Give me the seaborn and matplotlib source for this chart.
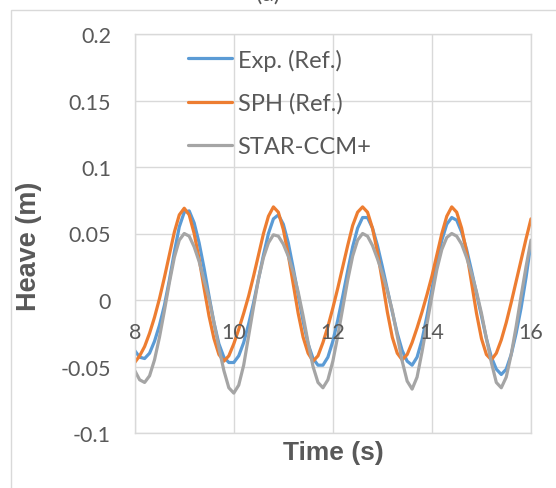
import numpy as np
import pandas as pd
import matplotlib
matplotlib.use("Agg")
import matplotlib.pyplot as plt
from matplotlib.patches import Rectangle
from matplotlib.transforms import offset_copy
import seaborn as sns

# Time axis (s), sampled every 0.1 s
time_s = [round(8.0 + 0.1 * i, 1) for i in range(81)]

# Heave (m) - experimental reference
heave_exp = [
    -0.038, -0.043, -0.044, -0.040, -0.031, -0.019, -0.004, 0.015, 0.036, 0.055,
    0.066, 0.067, 0.058, 0.043, 0.024, 0.003, -0.017, -0.033, -0.043, -0.047,
    -0.047, -0.042, -0.032, -0.018, -0.002, 0.016, 0.034, 0.050, 0.061, 0.064,
    0.057, 0.043, 0.024, 0.004, -0.016, -0.033, -0.044, -0.049, -0.049, -0.043,
    -0.031, -0.015, 0.003, 0.022, 0.040, 0.054, 0.062, 0.062, 0.054, 0.041,
    0.025, 0.008, -0.009, -0.025, -0.038, -0.046, -0.049, -0.043, -0.030, -0.012,
    0.008, 0.028, 0.045, 0.057, 0.062, 0.060, 0.051, 0.038, 0.022, 0.005,
    -0.012, -0.029, -0.043, -0.052, -0.056, -0.052, -0.041, -0.025, -0.006, 0.017,
    0.043,
]

# Heave (m) - SPH reference
heave_sph = [
    -0.047, -0.042, -0.035, -0.025, -0.013, 0.001, 0.017, 0.034, 0.051, 0.064,
    0.069, 0.064, 0.050, 0.031, 0.009, -0.012, -0.029, -0.041, -0.046, -0.042,
    -0.033, -0.022, -0.010, 0.003, 0.018, 0.034, 0.050, 0.063, 0.070, 0.066,
    0.053, 0.034, 0.012, -0.010, -0.028, -0.040, -0.046, -0.042, -0.032, -0.020,
    -0.006, 0.009, 0.025, 0.041, 0.056, 0.066, 0.070, 0.066, 0.054, 0.036,
    0.014, -0.009, -0.028, -0.040, -0.045, -0.041, -0.032, -0.021, -0.009, 0.004,
    0.018, 0.034, 0.050, 0.063, 0.070, 0.066, 0.054, 0.036, 0.013, -0.010,
    -0.029, -0.041, -0.045, -0.040, -0.030, -0.017, -0.002, 0.014, 0.030, 0.046,
    0.061,
]

# Heave (m) - STAR-CCM+ simulation
heave_star = [
    -0.053, -0.060, -0.062, -0.057, -0.045, -0.028, -0.008, 0.013, 0.032, 0.045,
    0.050, 0.048, 0.040, 0.029, 0.015, 0.001, -0.017, -0.036, -0.053, -0.066,
    -0.070, -0.064, -0.049, -0.027, -0.005, 0.016, 0.032, 0.043, 0.049, 0.048,
    0.042, 0.033, 0.021, 0.006, -0.012, -0.032, -0.050, -0.062, -0.066, -0.060,
    -0.046, -0.027, -0.006, 0.015, 0.033, 0.045, 0.050, 0.048, 0.041, 0.031,
    0.020, 0.007, -0.008, -0.027, -0.046, -0.061, -0.067, -0.058, -0.039, -0.018,
    0.003, 0.023, 0.038, 0.047, 0.050, 0.048, 0.042, 0.032, 0.020, 0.006,
    -0.010, -0.029, -0.047, -0.062, -0.066, -0.058, -0.041, -0.020, 0.003, 0.025,
    0.045,
]

series_names = ["Exp. (Ref.)", "SPH (Ref.)", "STAR-CCM+"]
series_colors = ["#5B9BD5", "#ED7D31", "#A5A5A5"]

x_ticks = [8, 10, 12, 14, 16]
y_ticks = [-0.1, -0.05, 0, 0.05, 0.1, 0.15, 0.2]
y_tick_labels = ["-0.1", "-0.05", "0", "0.05", "0.1", "0.15", "0.2"]

sns.set_style("white")
plt.rcParams["font.family"] = ["Lato", "DejaVu Sans"]

text_grey = "#595959"
grid_grey = "#D9D9D9"

W, H = 556, 489
fig = plt.figure(figsize=(W / 100, H / 100), dpi=100)
ax = fig.add_axes([134.7 / W, 1 - 434 / H, (531 - 134.7) / W, (434 - 35) / H])

df = pd.DataFrame({
    "Time": time_s * 3,
    "Heave": heave_exp + heave_sph + heave_star,
    "Series": sum([[n] * len(time_s) for n in series_names], []),
})

for name, color in zip(series_names, series_colors):
    sns.lineplot(data=df[df["Series"] == name], x="Time", y="Heave",
                 color=color, linewidth=2.3, label=name, ax=ax,
                 solid_capstyle="round", solid_joinstyle="round")

ax.set_xlim(8, 16)
ax.set_ylim(-0.1, 0.2)
ax.set_xticks(x_ticks)
ax.set_yticks(y_ticks)
ax.set_yticklabels(y_tick_labels)
ax.grid(True, color=grid_grey, linewidth=1.0)
ax.set_axisbelow(True)
for sp in ax.spines.values():
    sp.set_color(grid_grey)
    sp.set_linewidth(1.0)
ax.tick_params(axis="y", length=0, pad=17, labelsize=15.5, labelcolor=text_grey)
ax.tick_params(axis="x", length=0, labelbottom=False)

# Category labels sit just below the zero line
lab_trans = offset_copy(ax.transData, fig=fig, x=0, y=-32, units="dots")
for t in x_ticks:
    ax.text(t, 0, str(t), transform=lab_trans, ha="center", va="center",
            fontsize=15.5, color=text_grey)

ax.set_xlabel("")
ax.set_ylabel("")
fig.text(332.9 / W, 1 - 453 / H, "Time (s)", ha="center", va="center",
         fontsize=19, fontweight="bold", color=text_grey,
         family=["Liberation Sans", "DejaVu Sans"])
fig.text(29 / W, 1 - 246 / H, "Heave (m)", ha="center", va="center",
         rotation=90, fontsize=19.5, fontweight="bold", color=text_grey,
         family=["Liberation Sans", "DejaVu Sans"])

leg = ax.legend(loc="upper left", bbox_to_anchor=(188 / W, 1 - 49.5 / H),
                bbox_transform=fig.transFigure, frameon=False, fontsize=17,
                handlelength=1.85, handletextpad=0.25, labelspacing=0.93,
                borderpad=0, borderaxespad=0)
for txt in leg.get_texts():
    txt.set_color(text_grey)

# Chart-area frame and panel title
fig.patches.append(Rectangle((10.6 / W, -0.1), 1.2, 1 - 11.3 / H + 0.1,
                             transform=fig.transFigure, fill=False,
                             edgecolor=grid_grey, linewidth=1.0))
fig.text(268 / W, 1 - 0.5 / H, "(a)", ha="center", va="baseline",
         fontsize=17, color=text_grey)

fig.savefig("out.png", dpi=100)
